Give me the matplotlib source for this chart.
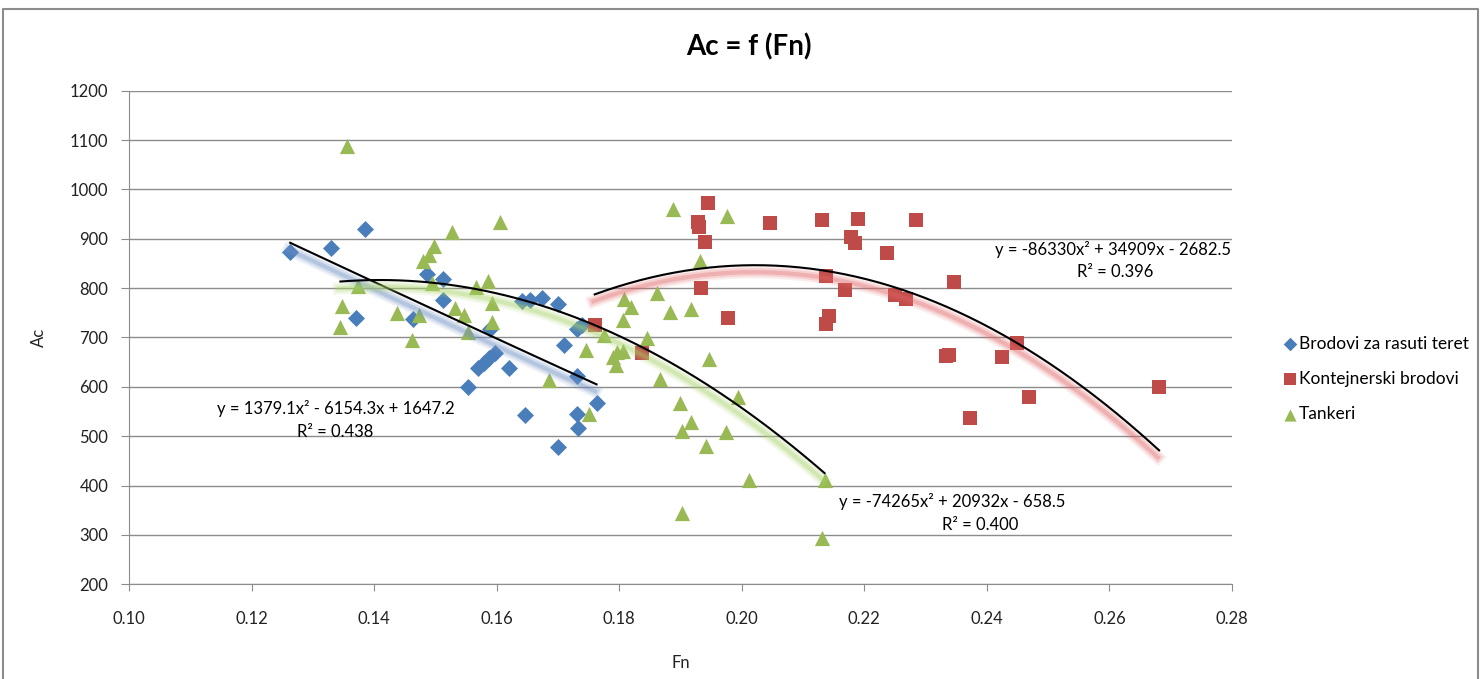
import matplotlib.pyplot as plt
import matplotlib.patheffects as pe
import numpy as np

plt.rcParams['font.family'] = ['Lato', 'DejaVu Sans']

# Brodovi za rasuti teret (bulk carriers)
bulk_fn = [0.1263, 0.1329, 0.1385, 0.1370, 0.1463, 0.1487, 0.1513, 0.1513, 0.1589,
           0.1553, 0.1570, 0.1580, 0.1588, 0.1597, 0.1620, 0.1642, 0.1655, 0.1674,
           0.1700, 0.1710, 0.1731, 0.1739, 0.1731, 0.1763, 0.1646, 0.1731, 0.1733, 0.1700]
bulk_ac = [874, 882, 919, 740, 737, 829, 819, 776, 717,
           600, 638, 648, 658, 668, 639, 773, 776, 781,
           767, 685, 717, 725, 621, 568, 543, 546, 516, 478]

# Kontejnerski brodovi (container ships)
cont_fn = [0.1945, 0.1929, 0.1930, 0.1940, 0.2046, 0.2131, 0.2190, 0.2284, 0.2178,
           0.2185, 0.2237, 0.1933, 0.2137, 0.2168, 0.2250, 0.2268, 0.1977, 0.2143,
           0.2137, 0.1760, 0.1837, 0.2346, 0.2334, 0.2338, 0.2424, 0.2449, 0.2468,
           0.2372, 0.2681]
cont_ac = [972, 935, 924, 894, 931, 939, 941, 939, 904,
           891, 871, 800, 825, 796, 786, 779, 740, 744,
           727, 725, 668, 813, 663, 664, 661, 688, 580,
           536, 600]

# Tankeri (tankers)
tank_fn = [0.1355, 0.1374, 0.1347, 0.1345, 0.1437, 0.1462, 0.1474, 0.1479, 0.1489,
           0.1497, 0.1495, 0.1527, 0.1532, 0.1547, 0.1553, 0.1567, 0.1586, 0.1592,
           0.1593, 0.1605, 0.1686, 0.1750, 0.1746, 0.1775, 0.1790, 0.1797, 0.1795,
           0.1806, 0.1807, 0.1820, 0.1806, 0.1846, 0.1887, 0.1976, 0.1932, 0.1861,
           0.1883, 0.1917, 0.1947, 0.1866, 0.1994, 0.1899, 0.1917, 0.1903, 0.1974,
           0.1941, 0.2011, 0.2135, 0.1903, 0.2131]
tank_ac = [1087, 805, 764, 722, 749, 695, 746, 854, 867,
           885, 810, 914, 759, 746, 712, 803, 814, 769,
           731, 935, 614, 546, 675, 705, 660, 670, 645,
           673, 779, 761, 735, 698, 960, 946, 854, 790,
           752, 757, 656, 615, 579, 568, 529, 511, 508,
           481, 411, 411, 344, 293]

# polynomial trendline coefficients (x^2, x, 1) and R^2 from the chart
bulk_fit = [1379.1, -6154.3, 1647.2]
cont_fit = [-86330, 34909, -2682.5]
tank_fit = [-74265, 20932, -658.5]
bulk_r2, cont_r2, tank_r2 = 0.438, 0.396, 0.400

blue = '#4A7EBB'
red = '#BE4B48'
green = '#98B954'

fig = plt.figure(figsize=(14.82, 6.79), dpi=100)
ax = fig.add_axes([129 / 1482, 1 - 584.3 / 679, 1103 / 1482, 493.6 / 679])

ax.scatter(bulk_fn, bulk_ac, marker='D', s=75, color=blue, lw=0, zorder=3,
           label='Brodovi za rasuti teret')
ax.scatter(cont_fn, cont_ac, marker='s', s=110, color=red, lw=0, zorder=3,
           label='Kontejnerski brodovi')
ax.scatter(tank_fn, tank_ac, marker='^', s=120, color=green, lw=0, zorder=3,
           label='Tankeri')


def trend(xs, coef, shadow):
    xx = np.linspace(min(xs), max(xs), 200)
    effects = [pe.SimpleLineShadow(offset=(-1, -5), shadow_color=shadow, alpha=0.12, rho=1, linewidth=9),
               pe.SimpleLineShadow(offset=(-1, -5), shadow_color=shadow, alpha=0.2, rho=1, linewidth=6),
               pe.SimpleLineShadow(offset=(-1, -5), shadow_color=shadow, alpha=0.3, rho=1, linewidth=3),
               pe.Normal()]
    ax.plot(xx, np.polyval(coef, xx), color='black', lw=1.5, zorder=4, path_effects=effects)


trend(bulk_fn, bulk_fit, '#6F8FC4')
trend(cont_fn, cont_fit, '#E06666')
trend(tank_fn, tank_fit, '#A9D46A')


def eq_text(coef):
    a, b, c = coef
    sb = '+' if b >= 0 else '-'
    sc = '+' if c >= 0 else '-'
    return 'y = %gx\u00b2 %s %gx %s %g' % (a, sb, abs(b), sc, abs(c))


# equation labels (x in Fn, y in Ac)
ax.text(0.1338, 557, eq_text(bulk_fit), ha='center', va='center', fontsize=12)
ax.text(0.1336, 509, 'R\u00b2 = %.3f' % bulk_r2, ha='center', va='center', fontsize=12)
ax.text(0.2343, 367, eq_text(tank_fit), ha='center', va='center', fontsize=12)
ax.text(0.2389, 320, 'R\u00b2 = %.3f' % tank_r2, ha='center', va='center', fontsize=12)
ax.text(0.2606, 879, eq_text(cont_fit), ha='center', va='center', fontsize=12)
ax.text(0.2609, 833, 'R\u00b2 = %.3f' % cont_r2, ha='center', va='center', fontsize=12)

ax.set_xlim(0.10, 0.28)
ax.set_ylim(200, 1200)
ax.set_xticks(np.arange(0.10, 0.281, 0.02))
ax.set_xticklabels(['%.2f' % v for v in np.arange(0.10, 0.281, 0.02)])
ax.set_yticks(np.arange(200, 1201, 100))
ax.grid(axis='y', color='#8C8C8C', lw=1)
ax.set_axisbelow(True)
for s in ['top', 'right']:
    ax.spines[s].set_visible(False)
for s in ['left', 'bottom']:
    ax.spines[s].set_color('#8C8C8C')
ax.tick_params(axis='x', colors='#8C8C8C', labelcolor='#222222', length=5, pad=14, labelsize=12)
ax.tick_params(axis='y', colors='#8C8C8C', labelcolor='#222222', length=6, pad=9, labelsize=12)

ax.set_xlabel('Fn', fontsize=12, color='#222222')
ax.xaxis.set_label_coords(0.5, -0.143)
ax.set_ylabel('Ac', fontsize=12, color='#222222')
ax.yaxis.set_label_coords(-0.0743, 0.5)

fig.text(749 / 1482, 1 - 47 / 679, 'Ac = f (Fn)', ha='center', va='center',
         fontsize=20, fontweight='bold')

ax.legend(loc='center left', bbox_to_anchor=(1266 / 1482, 1 - 379 / 679),
          bbox_transform=fig.transFigure, frameon=False, fontsize=12.5,
          handletextpad=0.0, labelspacing=1.1, handlelength=1.0, markerscale=0.8)

# chart border
fig.add_artist(plt.Line2D([3 / 1482, 3 / 1482, 1478 / 1482, 1478 / 1482],
                          [0, 1 - 9 / 679, 1 - 9 / 679, 0], color='#8C8C8C', lw=1.5))

fig.savefig('out.png', dpi=100)
